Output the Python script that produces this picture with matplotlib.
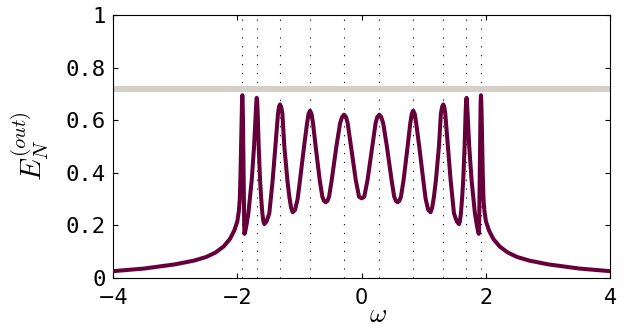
import matplotlib
matplotlib.use("Agg")
import matplotlib.pyplot as plt

plt.rcParams["mathtext.fontset"] = "cm"

# curve, left half (w < 0)
w_left = [-4.00, -3.50, -3.00, -2.70, -2.50, -2.35, -2.22, -2.12, -2.05, -2.00,
          -1.975, -1.960, -1.948, -1.938, -1.930, -1.924, -1.919, -1.914, -1.909,
          -1.903, -1.897, -1.892, -1.888, -1.884, -1.870, -1.850, -1.822, -1.795,
          -1.768, -1.731, -1.704, -1.695, -1.688, -1.680, -1.672, -1.656, -1.634,
          -1.615, -1.597, -1.580, -1.565, -1.530, -1.485, -1.431, -1.388, -1.345,
          -1.328, -1.313, -1.296, -1.275, -1.243, -1.195, -1.163, -1.135, -1.109,
          -1.071, -1.030, -0.991, -0.927, -0.878, -0.854, -0.830, -0.806, -0.782,
          -0.739, -0.675, -0.632, -0.605, -0.578, -0.551, -0.524, -0.481, -0.407,
          -0.347, -0.315, -0.283, -0.251, -0.224, -0.171, -0.095, -0.042]
e_left = [0.026, 0.036, 0.052, 0.066, 0.080, 0.097, 0.120, 0.148, 0.180, 0.215,
          0.255, 0.300, 0.400, 0.520, 0.620, 0.675, 0.695, 0.670, 0.600,
          0.480, 0.340, 0.235, 0.185, 0.168, 0.180, 0.205, 0.246, 0.310,
          0.373, 0.499, 0.626, 0.665, 0.685, 0.672, 0.626, 0.499, 0.373,
          0.300, 0.246, 0.215, 0.205, 0.215, 0.246, 0.373, 0.499, 0.626,
          0.652, 0.660, 0.652, 0.626, 0.499, 0.373, 0.309, 0.268, 0.250,
          0.259, 0.300, 0.373, 0.499, 0.588, 0.624, 0.636, 0.624, 0.588,
          0.499, 0.373, 0.309, 0.293, 0.288, 0.293, 0.309, 0.373, 0.499,
          0.588, 0.612, 0.621, 0.612, 0.588, 0.499, 0.373, 0.309]
# right half, read the same way
w_right = [0.000, 0.042, 0.095, 0.171, 0.224, 0.251, 0.283, 0.315, 0.347, 0.407,
           0.481, 0.524, 0.551, 0.578, 0.605, 0.632, 0.675, 0.739, 0.782, 0.806,
           0.830, 0.854, 0.878, 0.927, 0.991, 1.030, 1.071, 1.109, 1.135, 1.163,
           1.195, 1.243, 1.275, 1.296, 1.313, 1.328, 1.345, 1.388, 1.431, 1.485,
           1.530, 1.565, 1.580, 1.597, 1.615, 1.634, 1.656, 1.672, 1.680, 1.688,
           1.695, 1.704, 1.731, 1.768, 1.795, 1.822, 1.850, 1.870, 1.884, 1.888,
           1.892, 1.897, 1.903, 1.909, 1.914, 1.919, 1.924, 1.930, 1.938, 1.948,
           1.960, 1.975, 2.00, 2.05, 2.12, 2.22, 2.35, 2.50, 2.70, 3.00, 3.50, 4.00]
e_right = [0.303, 0.309, 0.373, 0.499, 0.588, 0.612, 0.621, 0.612, 0.588, 0.499,
           0.373, 0.309, 0.293, 0.288, 0.293, 0.309, 0.373, 0.499, 0.588, 0.624,
           0.636, 0.624, 0.588, 0.499, 0.373, 0.300, 0.259, 0.250, 0.268, 0.309,
           0.373, 0.499, 0.626, 0.652, 0.660, 0.652, 0.626, 0.499, 0.373, 0.246,
           0.215, 0.205, 0.215, 0.246, 0.300, 0.373, 0.499, 0.626, 0.672, 0.685,
           0.665, 0.626, 0.499, 0.373, 0.310, 0.246, 0.205, 0.180, 0.168, 0.185,
           0.235, 0.340, 0.480, 0.600, 0.670, 0.695, 0.675, 0.620, 0.520, 0.400,
           0.300, 0.255, 0.215, 0.180, 0.148, 0.120, 0.097, 0.080, 0.066, 0.052,
           0.036, 0.026]

omega = w_left + w_right
EN = e_left + e_right

# dotted resonance positions and the gray reference level
resonances = [-1.919, -1.683, -1.310, -0.831, -0.285, 0.285, 0.831, 1.310, 1.683, 1.919]
EN_max = 0.718

xticks = [-4, -2, 0, 2, 4]
xticklabels = ["\u22124", "\u22122", "0", "2", "4"]
yticks = [0, 0.2, 0.4, 0.6, 0.8, 1]
yticklabels = ["0", "0.2", "0.4", "0.6", "0.8", "1"]

fig = plt.figure(figsize=(6.39, 3.27), dpi=100)
ax = fig.add_axes([0.1768, 0.1498, 0.7783, 0.8043])

for r in resonances:
    ax.plot([r, r], [0, 1], color="black", lw=0.8, linestyle=(0, (1, 7)), zorder=1)

ax.axhline(EN_max, color="#d4d0c8", lw=4.3, zorder=2)
ax.plot(omega, EN, color="#65003a", lw=2.9, solid_joinstyle="round",
        solid_capstyle="butt", zorder=3)

ax.set_xlim(-4, 4)
ax.set_ylim(0, 1)
ax.set_xticks(xticks)
ax.set_xticklabels(xticklabels, fontsize=15)
ax.set_yticks(yticks)
ax.set_yticklabels(yticklabels, fontsize=16, family="DejaVu Sans Mono")
ax.tick_params(direction="in", length=3.6, width=0.8, top=True, right=True)
ax.tick_params(axis="x", pad=7)
ax.tick_params(axis="y", pad=5)
for s in ax.spines.values():
    s.set_linewidth(0.8)

ax.set_xlabel(r"$\omega$", fontsize=19)
ax.xaxis.set_label_coords(0.533, -0.09)
ax.set_ylabel(r"$E_N^{(out)}$", fontsize=21)
ax.yaxis.set_label_coords(-0.125, 0.5)

fig.savefig("out.png", dpi=100)
